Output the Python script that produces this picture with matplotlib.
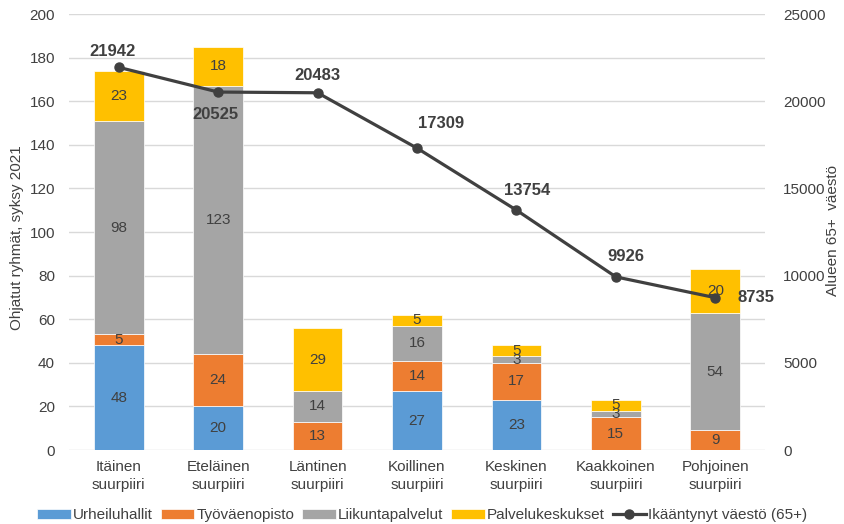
import matplotlib
matplotlib.use("Agg")
import matplotlib.pyplot as plt
import numpy as np

plt.rcParams['font.family'] = ['Liberation Sans', 'DejaVu Sans']

categories = ["Itäinen\nsuurpiiri", "Eteläinen\nsuurpiiri", "Läntinen\nsuurpiiri",
              "Koillinen\nsuurpiiri", "Keskinen\nsuurpiiri", "Kaakkoinen\nsuurpiiri",
              "Pohjoinen\nsuurpiiri"]
urheiluhallit = [48, 20, 0, 27, 23, 0, 0]
tyovaenopisto = [5, 24, 13, 14, 17, 15, 9]
liikuntapalvelut = [98, 123, 14, 16, 3, 3, 54]
palvelukeskukset = [23, 18, 29, 5, 5, 5, 20]
vaesto = [21942, 20525, 20483, 17309, 13754, 9926, 8735]

series = [("Urheiluhallit", urheiluhallit, "#5B9BD5"),
          ("Työväenopisto", tyovaenopisto, "#ED7D31"),
          ("Liikuntapalvelut", liikuntapalvelut, "#A5A5A5"),
          ("Palvelukeskukset", palvelukeskukset, "#FFC000")]

txt = "#404040"
fs = 11
W, H = 845, 524
fig = plt.figure(figsize=(8.45, 5.24), dpi=100)
ax = fig.add_axes([69 / W, 1 - 450 / H, (765 - 69) / W, (450 - 14) / H])
x = np.arange(len(categories))
bottom = np.zeros(len(categories))
handles = []
for name, vals, col in series:
    v = np.array(vals, dtype=float)
    b = ax.bar(x, v, 0.5, bottom=bottom, color=col, label=name, zorder=2,
               edgecolor="white", linewidth=0.5)
    handles.append(b)
    for xi, vi, bi in zip(x, v, bottom):
        if vi > 0:
            ax.text(xi, bi + vi / 2, f"{int(vi)}", ha="center", va="center",
                    fontsize=fs, color=txt, zorder=3)
    bottom += v

ax.set_ylim(0, 200)
ax.set_yticks(range(0, 201, 20))
ax.set_xlim(-0.5, 6.5)
ax.set_xticks(x)
ax.set_xticklabels(categories, fontsize=fs, color=txt, linespacing=1.4)
ax.grid(axis="y", color="#D9D9D9", linewidth=1, zorder=0)
for s in ax.spines.values():
    s.set_visible(False)
ax.tick_params(axis="y", length=0, labelsize=fs, colors=txt, pad=10)
ax.tick_params(axis="x", length=0, labelsize=fs, colors=txt, pad=7)
fig.text(17 / W, 1 - 238 / H, "Ohjatut ryhmät, syksy 2021", rotation=90,
         ha="center", va="center", fontsize=fs, color=txt)

ax2 = ax.twinx()
ax2.set_ylim(0, 25000)
ax2.set_yticks(range(0, 25001, 5000))
for s in ax2.spines.values():
    s.set_visible(False)
ax2.tick_params(axis="both", length=0, labelsize=fs, colors=txt, pad=13)
fig.text(833 / W, 1 - 230 / H, "Alueen 65+  väestö", rotation=90,
         ha="center", va="center", fontsize=fs, color=txt)
line, = ax2.plot(x, vaesto, color="#404040", linewidth=2.3, marker="o",
                 markersize=6.5, label="Ikääntynyt väestö (65+)", zorder=4)

offsets = [(-6, 16, "center"), (-3, -22, "center"), (0, 17, "center"),
           (24, 25, "center"), (11, 20, "center"), (10, 20, "center"),
           (22, 0, "left")]
for xi, yi, (dx, dy, ha) in zip(x, vaesto, offsets):
    ax2.annotate(f"{yi}", (xi, yi), xytext=(dx, dy), textcoords="offset pixels",
                 ha=ha, va="center", fontsize=12, fontweight="bold", color=txt)

fig.legend(handles + [line], [h.get_label() for h in handles] + [line.get_label()],
           loc="center", bbox_to_anchor=(0.5, 1 - 515 / H), ncol=5, frameon=False,
           fontsize=fs, handlelength=2.2, handleheight=0.65, columnspacing=0.5,
           handletextpad=0.15, labelcolor=txt, borderpad=0)

fig.savefig("out.png", dpi=100)
